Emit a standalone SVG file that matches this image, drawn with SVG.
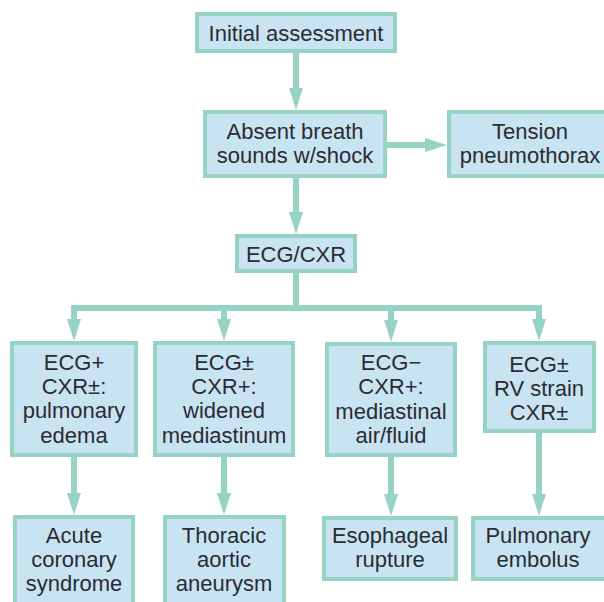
<svg xmlns="http://www.w3.org/2000/svg" width="604" height="602" viewBox="0 0 604 602">
  <style>
    .box { fill: #c8e4f2; stroke: #96d3c4; stroke-width: 4; }
    .lbl { font-family: "Liberation Sans", Arial, Helvetica, sans-serif; font-size: 22px; fill: #2b2b33; text-anchor: middle; }
    .wire { stroke: #96d3c4; stroke-width: 6; fill: none; }
    .arr { stroke: #96d3c4; stroke-width: 6; fill: none; marker-end: url(#head); }
  </style>
  <defs>
    <marker id="head" viewBox="0 0 22 14" markerWidth="22" markerHeight="14" refX="1" refY="7" markerUnits="userSpaceOnUse" orient="auto">
      <path d="M0,0 L22,7 L0,14 z" fill="#96d3c4"/>
    </marker>
  </defs>
  <rect width="604" height="602" fill="#ffffff"/>

  <!-- connectors -->
  <g id="connectors">
    <line class="arr" x1="296" y1="53" x2="296" y2="89"/>
    <line class="arr" x1="387" y1="145" x2="426" y2="145"/>
    <line class="arr" x1="296" y1="178" x2="296" y2="213"/>
    <line class="wire" x1="296" y1="273" x2="296" y2="308"/>
    <line class="wire" x1="71" y1="308" x2="542" y2="308"/>
    <line class="arr" x1="74" y1="305" x2="74" y2="320"/>
    <line class="arr" x1="224" y1="305" x2="224" y2="320"/>
    <line class="arr" x1="391" y1="305" x2="391" y2="321"/>
    <line class="arr" x1="539" y1="305" x2="539" y2="320"/>
    <line class="arr" x1="74" y1="457" x2="74" y2="494"/>
    <line class="arr" x1="224" y1="457" x2="224" y2="494"/>
    <line class="arr" x1="391" y1="457" x2="391" y2="495"/>
    <line class="arr" x1="539" y1="433" x2="539" y2="495"/>
  </g>

  <g id="initial">
    <rect class="box" x="197" y="14" width="198" height="37"/>
    <text class="lbl" x="296" y="41">Initial assessment</text>
  </g>

  <g id="absent-breath">
    <rect class="box" x="205" y="112" width="180" height="64"/>
    <text class="lbl" x="295" y="139">Absent breath</text>
    <text class="lbl" x="295" y="163">sounds w/shock</text>
  </g>

  <g id="tension">
    <rect class="box" x="449" y="112" width="163" height="64"/>
    <text class="lbl" x="530" y="139">Tension</text>
    <text class="lbl" x="530" y="163">pneumothorax</text>
  </g>

  <g id="ecg-cxr">
    <rect class="box" x="237" y="236" width="118" height="35"/>
    <text class="lbl" x="296" y="262">ECG/CXR</text>
  </g>

  <g id="pulm-edema">
    <rect class="box" x="12" y="343" width="124" height="112"/>
    <text class="lbl" x="74" y="370">ECG+</text>
    <text class="lbl" x="74" y="394">CXR±:</text>
    <text class="lbl" x="74" y="418">pulmonary</text>
    <text class="lbl" x="74" y="443">edema</text>
  </g>

  <g id="widened">
    <rect class="box" x="155" y="343" width="138" height="112"/>
    <text class="lbl" x="224" y="370">ECG±</text>
    <text class="lbl" x="224" y="394">CXR+:</text>
    <text class="lbl" x="224" y="418">widened</text>
    <text class="lbl" x="224" y="443">mediastinum</text>
  </g>

  <g id="mediastinal">
    <rect class="box" x="327" y="344" width="128" height="111"/>
    <text class="lbl" x="391" y="370">ECG−</text>
    <text class="lbl" x="391" y="394">CXR+:</text>
    <text class="lbl" x="391" y="419">mediastinal</text>
    <text class="lbl" x="391" y="443">air/fluid</text>
  </g>

  <g id="rv-strain">
    <rect class="box" x="485" y="343" width="109" height="88"/>
    <text class="lbl" x="539" y="372">ECG±</text>
    <text class="lbl" x="539" y="396">RV strain</text>
    <text class="lbl" x="539" y="420">CXR±</text>
  </g>

  <g id="acs">
    <rect class="box" x="15" y="517" width="118" height="100"/>
    <text class="lbl" x="74" y="543">Acute</text>
    <text class="lbl" x="74" y="567">coronary</text>
    <text class="lbl" x="74" y="591">syndrome</text>
  </g>

  <g id="aneurysm">
    <rect class="box" x="165" y="517" width="119" height="100"/>
    <text class="lbl" x="224" y="543">Thoracic</text>
    <text class="lbl" x="224" y="567">aortic</text>
    <text class="lbl" x="224" y="591">aneurysm</text>
  </g>

  <g id="esophageal">
    <rect class="box" x="324" y="518" width="132" height="61"/>
    <text class="lbl" x="390" y="543">Esophageal</text>
    <text class="lbl" x="390" y="567">rupture</text>
  </g>

  <g id="pe">
    <rect class="box" x="473" y="518" width="139" height="61"/>
    <text class="lbl" x="538" y="543">Pulmonary</text>
    <text class="lbl" x="538" y="567">embolus</text>
  </g>
</svg>
